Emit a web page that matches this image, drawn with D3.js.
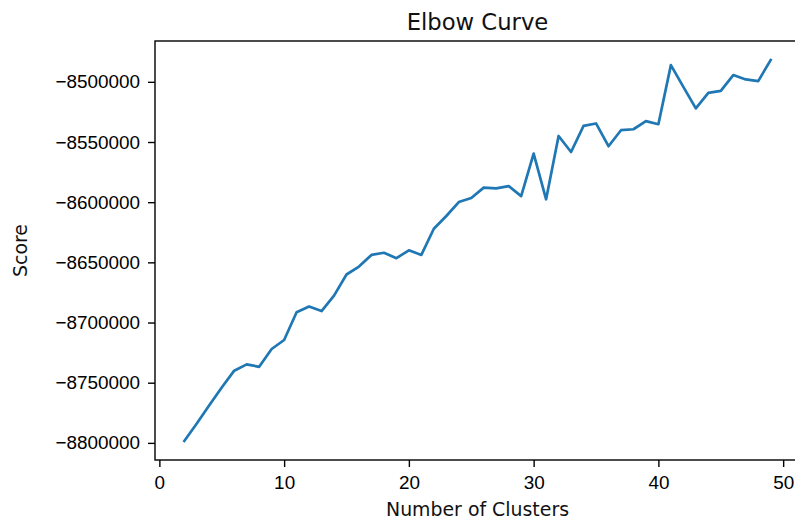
<!DOCTYPE html>
<html>
<head>
<meta charset="utf-8">
<script src="https://cdn.jsdelivr.net/npm/d3@7"></script>
<style>
  body { margin: 0; background: #fff; }
  svg { display: block; font-family: "DejaVu Sans", sans-serif; }
  .tick text { fill: #000; }
</style>
</head>
<body>
<div id="chart"></div>
<script>
const clusters = [2, 3, 4, 5, 6, 7, 8, 9, 10, 11, 12, 13, 14, 15, 16, 17, 18, 19, 20, 21, 22, 23, 24, 25,
  26, 27, 28, 29, 30, 31, 32, 33, 34, 35, 36, 37, 38, 39, 40, 41, 42, 43, 44, 45, 46, 47, 48, 49];

const scores = [-8798400, -8783900, -8768800, -8754000, -8740000, -8734800, -8736800, -8722000, -8714500,
  -8691500, -8686700, -8690500, -8677600, -8660100, -8653500, -8643800, -8642000, -8646500, -8640000,
  -8643800, -8622100, -8611500, -8599900, -8596600, -8587900, -8588500, -8586600, -8595000, -8559600,
  -8597600, -8545000, -8558300, -8536600, -8534600, -8553500, -8540200, -8539400, -8532700, -8535200,
  -8486100, -8504200, -8522100, -8509200, -8507500, -8494400, -8498000, -8499400, -8481900];

const xTicks = [0, 10, 20, 30, 40, 50];
const yTicks = [-8800000, -8750000, -8700000, -8650000, -8600000, -8550000, -8500000];

const titleText = "Elbow Curve";
const xLabel = "Number of Clusters";
const yLabel = "Score";

drawChart();

function drawChart() {
  const W = 795, H = 519;
  const margin = { top: 41, right: -5, bottom: 59, left: 155 };
  const width = W - margin.left - margin.right;   // 645
  const height = H - margin.top - margin.bottom;  // 419
  const fontSize = "18.9px";

  const svg = d3.select("#chart")
    .append("svg")
    .attr("width", W)
    .attr("height", H)
    .append("g")
    .attr("transform", `translate(${margin.left},${margin.top})`);

  // matplotlib style 5% padding around the data
  const xMin = d3.min(clusters), xMax = d3.max(clusters);
  const xPad = (xMax - xMin) * 0.05;
  const yMin = d3.min(scores), yMax = d3.max(scores);
  const yPad = (yMax - yMin) * 0.05;

  const xScale = d3.scaleLinear()
    .domain([xMin - xPad, xMax + xPad])
    .range([0, width]);

  const yScale = d3.scaleLinear()
    .domain([yMin - yPad, yMax + yPad])
    .range([height, 0]);

  const xAxis = d3.axisBottom(xScale)
    .tickValues(xTicks)
    .tickSize(7)
    .tickPadding(5)
    .tickFormat(d3.format("d"));

  const yAxis = d3.axisLeft(yScale)
    .tickValues(yTicks)
    .tickSize(7)
    .tickPadding(8)
    .tickFormat(d3.format("d"));

  const gx = svg.append("g")
    .attr("transform", `translate(0,${height})`)
    .call(xAxis);

  const gy = svg.append("g")
    .call(yAxis);

  [gx, gy].forEach((g) => {
    g.select(".domain").remove();
    g.selectAll(".tick line").attr("stroke", "#000").attr("stroke-width", 1.4);
    g.selectAll(".tick text").style("font-size", fontSize).attr("fill", "#111");
  });
  gx.selectAll(".tick text").attr("dy", "0.92em");

  const line = d3.line()
    .x((d, i) => xScale(clusters[i]))
    .y((d) => yScale(d));

  svg.append("path")
    .datum(scores)
    .attr("fill", "none")
    .attr("stroke", "#1f77b4")
    .attr("stroke-width", 2.7)
    .attr("stroke-linejoin", "round")
    .attr("stroke-linecap", "square")
    .attr("d", line);

  // frame
  svg.append("rect")
    .attr("x", 0)
    .attr("y", 0)
    .attr("width", width)
    .attr("height", height)
    .attr("fill", "none")
    .attr("stroke", "#000")
    .attr("stroke-width", 1.4);

  svg.append("text")
    .attr("x", width / 2)
    .attr("y", -11)
    .attr("text-anchor", "middle")
    .attr("fill", "#111")
    .style("font-size", "22.7px")
    .text(titleText);

  svg.append("text")
    .attr("x", width / 2)
    .attr("y", height + 56)
    .attr("text-anchor", "middle")
    .attr("fill", "#111")
    .style("font-size", fontSize)
    .text(xLabel);

  svg.append("text")
    .attr("transform", `translate(${-128},${height / 2}) rotate(-90)`)
    .attr("text-anchor", "middle")
    .attr("fill", "#111")
    .style("font-size", fontSize)
    .text(yLabel);
}
</script>
</body>
</html>
